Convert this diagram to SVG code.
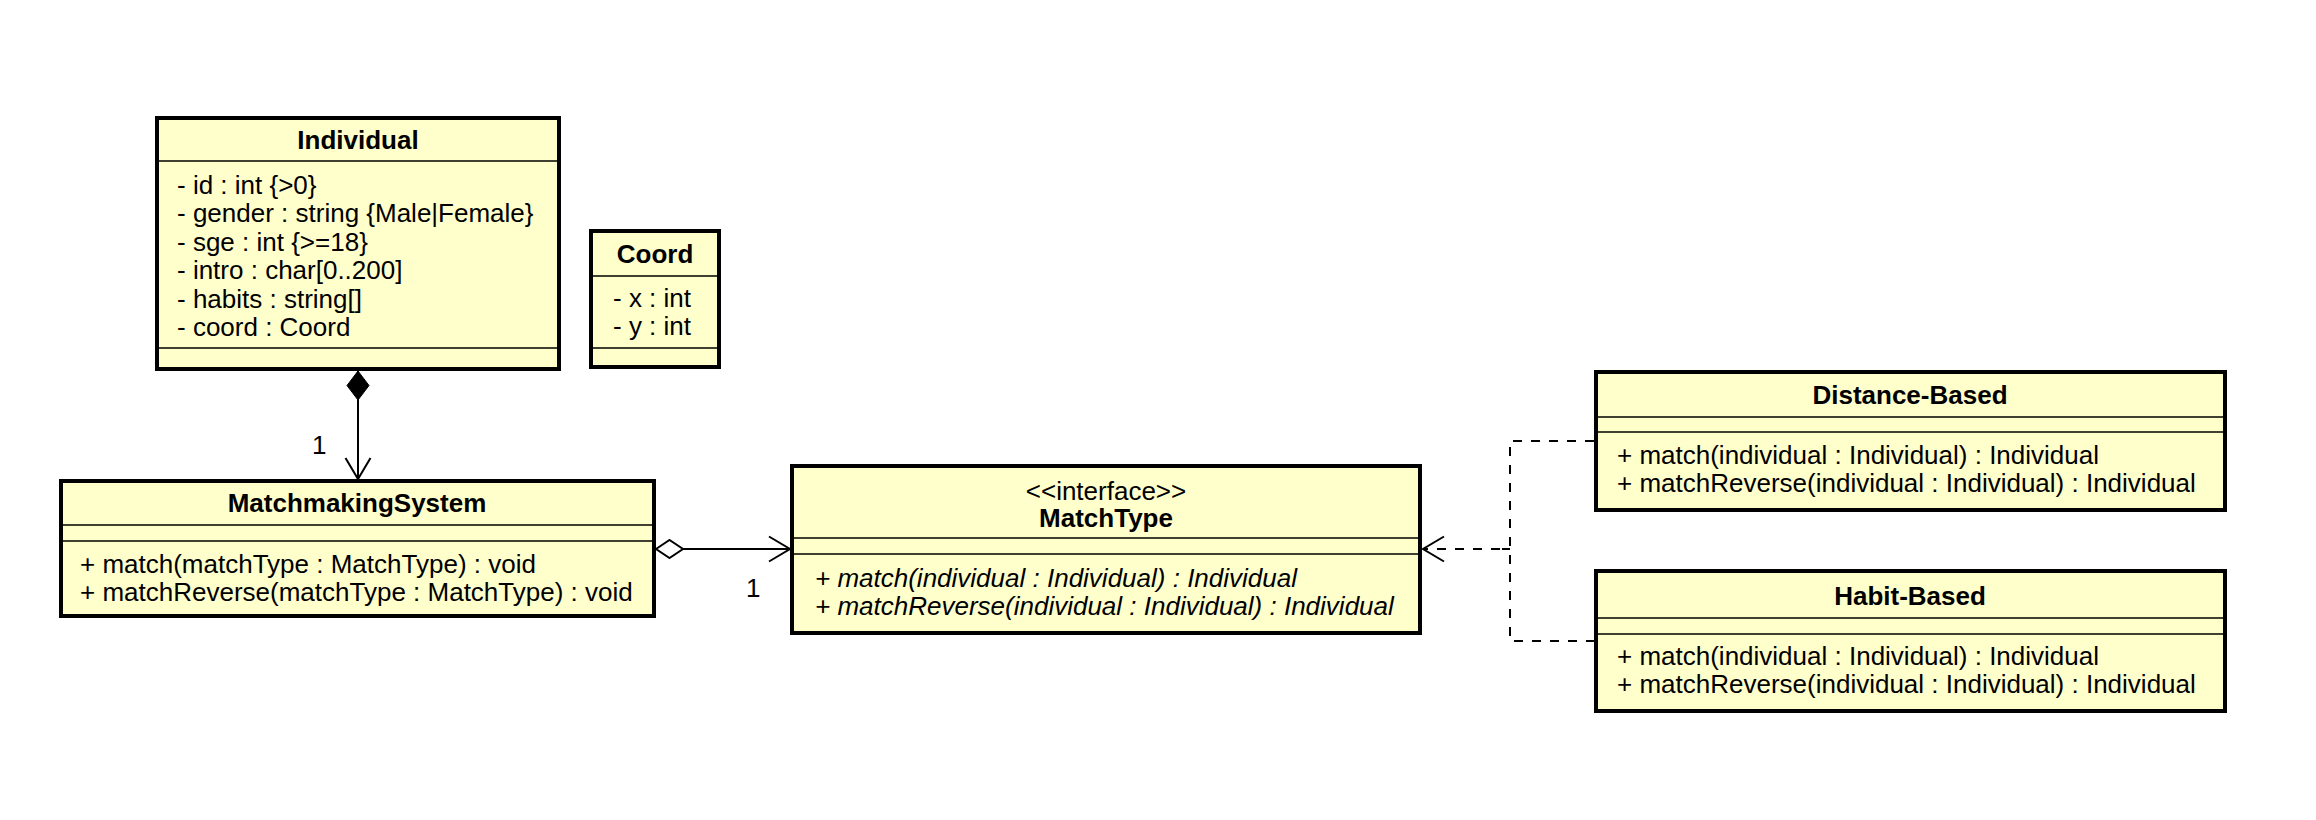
<svg xmlns="http://www.w3.org/2000/svg" width="2316" height="820" viewBox="0 0 2316 820">
<defs>
<style>
.box{fill:#FFFFCC;stroke:#000;stroke-width:4}
.sep{stroke:#404030;stroke-width:2}
text{font-family:"Liberation Sans","DejaVu Sans",sans-serif;font-size:26px;fill:#000}
.t{font-weight:bold;text-anchor:middle}
.c{text-anchor:middle}
.i{font-style:italic}
.ln{fill:none;stroke:#000;stroke-width:2}
.dash{fill:none;stroke:#000;stroke-width:2;stroke-dasharray:9 9}
</style>
<marker id="open" viewBox="0 0 24 28" refX="22" refY="14" markerWidth="24" markerHeight="28" markerUnits="userSpaceOnUse" orient="auto">
<path d="M1,1.5 L22,14 L1,26.5" fill="none" stroke="#000" stroke-width="2"/>
</marker>
<marker id="filled" viewBox="-1 -1 32 24" refX="0" refY="11" markerWidth="32" markerHeight="24" markerUnits="userSpaceOnUse" orient="auto">
<path d="M0,11 L14.5,0 L29,11 L14.5,22 Z" fill="#000" stroke="#000" stroke-width="1"/>
</marker>
<marker id="hollow" viewBox="-1 -1 30 20" refX="0" refY="9" markerWidth="30" markerHeight="20" markerUnits="userSpaceOnUse" orient="auto">
<path d="M0,9 L13.5,0 L27,9 L13.5,18 Z" fill="#fff" stroke="#000" stroke-width="2"/>
</marker>
</defs>
<rect width="2316" height="820" fill="#fff"/>

<g id="connectors">
<line class="ln" x1="358" y1="371" x2="358" y2="479" marker-start="url(#filled)" marker-end="url(#open)"/>
<text x="312" y="454">1</text>
<line class="ln" x1="656" y1="549" x2="790" y2="549" marker-start="url(#hollow)" marker-end="url(#open)"/>
<text x="746" y="597">1</text>
<line class="dash" x1="1500" y1="549" x2="1423" y2="549" marker-end="url(#open)"/>
<line class="ln" x1="1502" y1="549" x2="1510" y2="549"/>
<path class="dash" d="M1594,441 H1510 V641 H1594"/>
</g>

<g id="Individual">
<rect class="box" x="157" y="118" width="402" height="251"/>
<line class="sep" x1="159" y1="161" x2="557" y2="161"/>
<line class="sep" x1="159" y1="348" x2="557" y2="348"/>
<text class="t" x="358" y="149">Individual</text>
<text x="177" y="194">- id : int {&gt;0}</text>
<text x="177" y="222">- gender : string {Male|Female}</text>
<text x="177" y="251">- sge : int {&gt;=18}</text>
<text x="177" y="279">- intro : char[0..200]</text>
<text x="177" y="308">- habits : string[]</text>
<text x="177" y="336">- coord : Coord</text>
</g>

<g id="Coord">
<rect class="box" x="591" y="231" width="128" height="136"/>
<line class="sep" x1="593" y1="276" x2="717" y2="276"/>
<line class="sep" x1="593" y1="348" x2="717" y2="348"/>
<text class="t" x="655" y="263">Coord</text>
<text x="613" y="307">- x : int</text>
<text x="613" y="335">- y : int</text>
</g>

<g id="MatchmakingSystem">
<rect class="box" x="61" y="481" width="593" height="135"/>
<line class="sep" x1="63" y1="525" x2="652" y2="525"/>
<line class="sep" x1="63" y1="541" x2="652" y2="541"/>
<text class="t" x="357" y="512">MatchmakingSystem</text>
<text x="80" y="573">+ match(matchType : MatchType) : void</text>
<text x="80" y="601">+ matchReverse(matchType : MatchType) : void</text>
</g>

<g id="MatchType">
<rect class="box" x="792" y="466" width="628" height="167"/>
<line class="sep" x1="794" y1="538" x2="1418" y2="538"/>
<line class="sep" x1="794" y1="554" x2="1418" y2="554"/>
<text class="c" x="1106" y="500">&lt;&lt;interface&gt;&gt;</text>
<text class="t" x="1106" y="527">MatchType</text>
<text class="i" x="815" y="587">+ match(individual : Individual) : Individual</text>
<text class="i" x="815" y="615">+ matchReverse(individual : Individual) : Individual</text>
</g>

<g id="DistanceBased">
<rect class="box" x="1596" y="372" width="629" height="138"/>
<line class="sep" x1="1598" y1="417" x2="2223" y2="417"/>
<line class="sep" x1="1598" y1="432" x2="2223" y2="432"/>
<text class="t" x="1910" y="404">Distance-Based</text>
<text x="1617" y="464">+ match(individual : Individual) : Individual</text>
<text x="1617" y="492">+ matchReverse(individual : Individual) : Individual</text>
</g>

<g id="HabitBased">
<rect class="box" x="1596" y="571" width="629" height="140"/>
<line class="sep" x1="1598" y1="618" x2="2223" y2="618"/>
<line class="sep" x1="1598" y1="634" x2="2223" y2="634"/>
<text class="t" x="1910" y="605">Habit-Based</text>
<text x="1617" y="665">+ match(individual : Individual) : Individual</text>
<text x="1617" y="693">+ matchReverse(individual : Individual) : Individual</text>
</g>
</svg>
